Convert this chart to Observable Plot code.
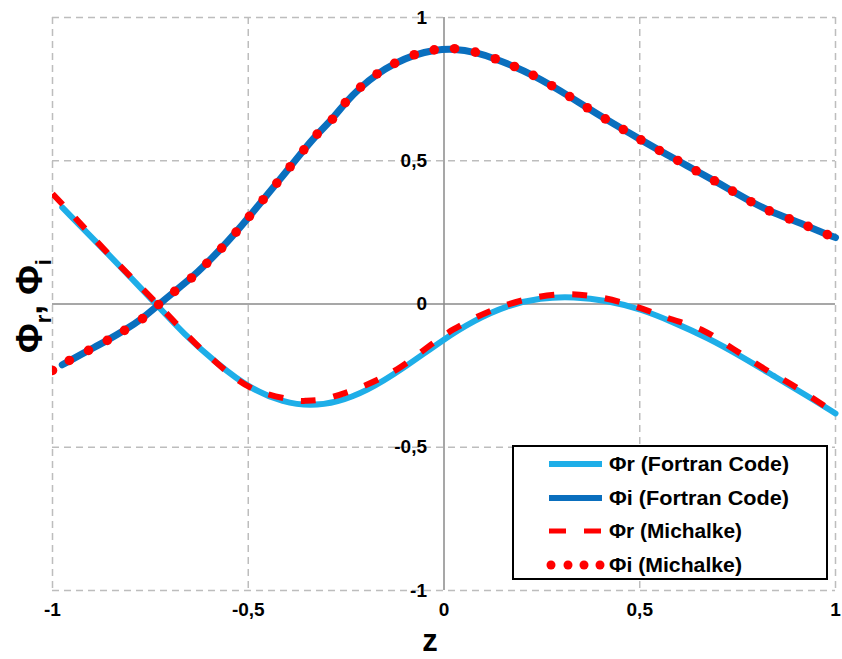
<!DOCTYPE html>
<html>
<head>
<meta charset="utf-8">
<script src="https://cdn.jsdelivr.net/npm/d3@7"></script>
<script src="https://cdn.jsdelivr.net/npm/@observablehq/plot@0.6"></script>
<style>
  html, body { margin: 0; padding: 0; background: #fff; }
  #chart { position: relative; width: 842px; height: 659px; }
  svg { font-family: "Liberation Sans", Arial, sans-serif; }
</style>
</head>
<body>
<div id="chart"></div>
<script>
// ---- data ----
const xTicks = [-1, -0.5, 0, 0.5, 1];
const yTicks = [-1, -0.5, 0, 0.5, 1];

// Phi_r, Fortran Code (light blue solid)
const zFortranR   = [-0.975, -0.86, -0.732, -0.665, -0.579, -0.494, -0.409, -0.341, -0.273, -0.196, -0.111, 0.0, 0.076, 0.161, 0.246, 0.332, 0.417, 0.502, 0.587, 0.672, 0.757, 0.842, 0.928, 1.0];
const phiRFortran = [0.337, 0.178, -0.005, -0.104, -0.209, -0.297, -0.344, -0.356, -0.344, -0.303, -0.232, -0.122, -0.058, -0.005, 0.022, 0.026, 0.012, -0.017, -0.064, -0.117, -0.181, -0.251, -0.321, -0.382];

// Phi_i, Fortran Code (dark blue solid)
const zFortranI   = [-0.975, -0.908, -0.860, -0.816, -0.770, -0.729, -0.688, -0.645, -0.606, -0.568, -0.531, -0.497, -0.462, -0.427, -0.393, -0.358, -0.324, -0.285, -0.252, -0.213, -0.171, -0.126, -0.076, -0.025, 0.027, 0.080, 0.131, 0.180, 0.228, 0.275, 0.321, 0.366, 0.412, 0.458, 0.503, 0.550, 0.597, 0.644, 0.691, 0.737, 0.784, 0.831, 0.882, 0.930, 0.979, 1.0];
const phiIFortran = [-0.212, -0.162, -0.127, -0.092, -0.051, -0.002, 0.044, 0.091, 0.142, 0.195, 0.251, 0.306, 0.364, 0.422, 0.479, 0.538, 0.593, 0.645, 0.703, 0.757, 0.803, 0.840, 0.870, 0.887, 0.891, 0.879, 0.856, 0.829, 0.798, 0.762, 0.724, 0.685, 0.646, 0.609, 0.573, 0.536, 0.501, 0.465, 0.430, 0.394, 0.357, 0.325, 0.297, 0.271, 0.242, 0.232];

// Phi_r, Michalke (red dashed)
const zMichR   = [-1.0, -0.943, -0.862, -0.732, -0.605, -0.494, -0.375, -0.354, -0.307, -0.205, -0.120, -0.026, 0.025, 0.119, 0.213, 0.306, 0.391, 0.485, 0.570, 0.664, 0.740, 0.817, 0.902, 0.987, 1.0];
const phiRMich = [0.385, 0.302, 0.182, 0.0, -0.176, -0.292, -0.337, -0.338, -0.332, -0.286, -0.228, -0.135, -0.088, -0.024, 0.017, 0.034, 0.025, -0.007, -0.048, -0.094, -0.158, -0.225, -0.293, -0.369, -0.380];

// Phi_i, Michalke (red dotted markers)
const zMichI   = [-1.0, -0.957, -0.908, -0.860, -0.816, -0.770, -0.729, -0.688, -0.645, -0.606, -0.568, -0.531, -0.497, -0.462, -0.427, -0.393, -0.358, -0.324, -0.285, -0.252, -0.213, -0.171, -0.126, -0.076, -0.025, 0.027, 0.080, 0.131, 0.180, 0.228, 0.275, 0.321, 0.366, 0.412, 0.458, 0.503, 0.550, 0.597, 0.644, 0.691, 0.737, 0.784, 0.831, 0.882, 0.930, 0.979];
const phiIMich = [-0.232, -0.197, -0.162, -0.127, -0.092, -0.051, -0.002, 0.044, 0.091, 0.142, 0.195, 0.251, 0.306, 0.364, 0.422, 0.479, 0.538, 0.593, 0.645, 0.703, 0.757, 0.803, 0.840, 0.870, 0.887, 0.891, 0.879, 0.856, 0.829, 0.798, 0.762, 0.724, 0.685, 0.646, 0.609, 0.573, 0.536, 0.501, 0.465, 0.430, 0.394, 0.357, 0.325, 0.297, 0.271, 0.242];

const seriesNames = ["Φr (Fortran Code)", "Φi (Fortran Code)", "Φr (Michalke)", "Φi (Michalke)"];
const seriesColors = ["#1eaee8", "#0a6fbe", "#ff0000", "#ff0000"];

// ---- build tables ----
const zip = (xs, ys) => xs.map((x, i) => ({x, y: ys[i]}));
const fR = zip(zFortranR, phiRFortran);
const fI = zip(zFortranI, phiIFortran);
const mR = zip(zMichR, phiRMich);
const mI = zip(zMichI, phiIMich);

const fmt = d => (d < 0 ? "-" : "") + String(Math.abs(d)).replace(".", ",");
const gridX = xTicks.filter(d => d !== 0);
const gridY = yTicks.filter(d => d !== 0);

const plot = Plot.plot({
  width: 842,
  height: 659,
  marginLeft: 52,
  marginRight: 7,
  marginTop: 17,
  marginBottom: 69,
  x: {domain: [-1, 1], axis: null},
  y: {domain: [-1, 1], axis: null},
  style: {fontFamily: "Liberation Sans, Arial, sans-serif", background: "#fff"},
  marks: [
    Plot.ruleX(gridX, {stroke: "#bdbdbd", strokeWidth: 1.5, strokeDasharray: "7,5"}),
    Plot.ruleY(gridY, {stroke: "#bdbdbd", strokeWidth: 1.5, strokeDasharray: "7,5"}),
    Plot.ruleY([0], {stroke: "#8a8a8a", strokeWidth: 1.5}),
    Plot.ruleX([0], {stroke: "#8a8a8a", strokeWidth: 1.5}),
    Plot.axisX({ticks: xTicks, tickFormat: fmt, tickSize: 0, tickPadding: 12, fontSize: 19, fontWeight: "bold", label: null, color: "#000"}),
    Plot.text(yTicks, {x: 0, y: d => d, text: d => fmt(d), textAnchor: "end", dx: -17, fontSize: 19, fontWeight: "bold", fill: "#000"}),
    Plot.line(fR, {x: "x", y: "y", stroke: seriesColors[0], strokeWidth: 6, curve: "basis"}),
    Plot.line(fI, {x: "x", y: "y", stroke: seriesColors[1], strokeWidth: 7, curve: "basis"}),
    Plot.line(mR, {x: "x", y: "y", stroke: seriesColors[2], strokeWidth: 6, strokeDasharray: "15,18", strokeLinecap: "butt", curve: "catmull-rom", clip: true}),
    Plot.dot(mI, {x: "x", y: "y", r: 4.8, fill: seriesColors[3], stroke: "none", clip: true})
  ]
});

document.getElementById("chart").appendChild(plot);

// ---- axis titles and legend ----
const svg = d3.select(plot);

svg.append("text")
  .attr("x", 430).attr("y", 651)
  .attr("text-anchor", "middle")
  .attr("font-size", 31).attr("font-weight", "bold").attr("fill", "#000")
  .text("z");

const yt = svg.append("text")
  .attr("transform", "translate(42,306) rotate(-90)")
  .attr("text-anchor", "middle")
  .attr("font-size", 36).attr("font-weight", "bold").attr("fill", "#000");
yt.append("tspan").text("Φ");
yt.append("tspan").attr("font-size", 22).attr("dy", 9).text("r");
yt.append("tspan").attr("dy", -9).text(", Φ");
yt.append("tspan").attr("font-size", 22).attr("dy", 9).text("i");

const lg = svg.append("g").attr("text-anchor", "start");
lg.append("rect")
  .attr("x", 513).attr("y", 446).attr("width", 314).attr("height", 133)
  .attr("fill", "#fff").attr("stroke", "#000").attr("stroke-width", 2);
const rowsY = [464, 498, 531, 565];
seriesNames.forEach((name, i) => {
  const y = rowsY[i];
  if (i === 3) {
    [551, 568, 584, 600].forEach(cx => {
      lg.append("circle").attr("cx", cx).attr("cy", y).attr("r", 4.5).attr("fill", seriesColors[i]);
    });
  } else {
    lg.append("line")
      .attr("x1", 549).attr("x2", 602).attr("y1", y).attr("y2", y)
      .attr("stroke", seriesColors[i]).attr("stroke-width", i === 2 ? 5 : 6)
      .attr("stroke-dasharray", i === 2 ? "17,18" : null);
  }
  lg.append("text")
    .attr("x", 609).attr("y", y).attr("dy", "0.36em")
    .attr("text-anchor", "start")
    .attr("font-size", 20).attr("font-weight", "bold").attr("fill", "#000")
    .attr("textLength", i < 2 ? 180 : 133).attr("lengthAdjust", "spacingAndGlyphs")
    .text(name);
});
</script>
</body>
</html>
